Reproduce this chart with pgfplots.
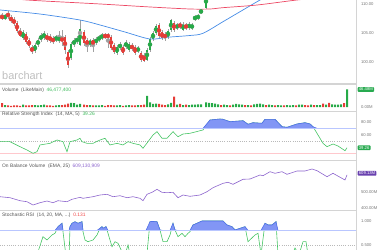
\documentclass[border=0pt]{standalone}
\usepackage{pgfplots}
\pgfplotsset{compat=1.18}
\usepackage{pgfplotstable}
\usepackage{fontspec}
\setmainfont{Liberation Sans}
\definecolor{cgreen}{RGB}{38,170,72}
\definecolor{cred}{RGB}{230,60,55}
\definecolor{wick}{RGB}{160,160,160}
\definecolor{mablue}{RGB}{70,140,230}
\definecolor{mared}{RGB}{236,72,100}
\definecolor{lgreen}{RGB}{70,196,100}
\definecolor{fillblue}{RGB}{130,150,245}
\definecolor{lineblue}{RGB}{80,110,235}
\definecolor{lvlblue}{RGB}{185,198,255}
\definecolor{lvlpink}{RGB}{255,200,205}
\definecolor{obvpurple}{RGB}{140,100,205}
\definecolor{boxpurple}{RGB}{105,65,175}
\definecolor{boxgreen}{RGB}{40,170,80}
\definecolor{sepgray}{RGB}{212,212,212}
\definecolor{txtgray}{RGB}{85,85,85}
\definecolor{tickgray}{RGB}{120,120,120}
\definecolor{valred}{RGB}{240,70,70}
\definecolor{valgreen}{RGB}{60,185,90}

\pgfplotstableread{
x hi lo top bot
5 108.32 107.28 107.98 107.63
23 105.55 103.82 105.20 104.16
35 103.30 101.56 102.95 101.91
38 104.16 102.60 103.82 102.95
41 105.03 103.47 104.68 103.82
44 105.38 103.82 105.03 104.16
56 104.68 103.47 104.34 103.82
59 105.38 103.30 104.16 103.82
71 103.47 100.35 103.12 100.70
74 104.16 102.60 103.82 102.95
77 104.51 103.12 104.16 103.47
80 107.28 102.78 105.72 102.95
90 103.99 102.60 103.64 103.12
96 104.34 102.95 103.99 103.30
99 104.68 103.47 104.34 103.82
102 105.03 103.82 104.68 104.16
117 102.95 101.22 102.60 101.56
120 103.47 102.08 103.12 102.43
126 103.82 102.26 103.47 102.60
129 103.47 101.74 103.12 102.08
138 102.78 101.56 102.43 101.91
147 102.43 100.18 102.08 100.35
150 104.34 101.74 103.99 102.08
153 105.38 103.64 105.03 103.99
156 106.59 104.68 106.24 105.03
168 105.72 103.99 105.38 104.34
171 107.46 105.20 107.28 105.55
177 106.76 105.55 106.42 105.90
183 106.94 105.38 106.59 105.55
189 106.94 105.55 106.59 105.90
192 106.76 105.55 106.42 105.90
195 108.15 107.11 107.98 107.28
198 108.32 107.28 108.15 107.46
201 109.19 108.32 109.02 108.50
206 112.10 109.19 111.62 109.36
}\greencandles

\pgfplotstableread{
x hi lo top bot
2 108.50 107.28 108.15 107.46
8 108.84 107.46 108.50 107.80
11 108.15 106.76 107.80 107.11
14 107.80 106.24 107.46 106.59
17 107.11 105.03 106.76 105.38
20 105.90 104.34 105.55 104.51
26 105.20 103.12 104.86 103.47
29 104.16 102.43 103.82 102.78
32 102.95 101.39 102.60 101.74
47 105.03 103.47 104.68 103.82
50 104.86 103.30 104.51 103.64
53 104.51 103.12 104.16 103.47
62 105.55 102.78 104.16 103.64
65 104.68 101.39 104.34 102.08
68 102.08 98.97 101.74 99.49
84 105.55 102.78 105.20 103.30
87 104.16 101.74 103.82 102.95
93 104.16 101.74 103.82 102.95
105 105.03 103.99 104.68 104.34
108 105.03 102.43 104.86 104.16
111 104.68 102.08 104.34 102.43
114 103.30 101.39 102.95 101.74
123 102.95 101.22 102.60 101.56
132 103.30 101.91 102.95 102.26
135 102.95 101.22 102.60 101.56
141 101.91 100.00 101.56 100.35
144 101.56 100.00 101.22 100.18
159 106.76 104.16 106.42 104.51
162 105.55 103.82 105.20 104.16
165 105.20 103.64 104.86 104.16
174 107.11 105.20 106.76 105.55
180 106.94 105.72 106.59 106.07
186 106.76 105.55 106.42 105.90
}\redcandles

\pgfplotstableread{
x v
5 5
23 6
35 5
38 4
41 5
44 6
56 4
59 5
71 11
74 10
77 6
80 8
90 5
96 4
99 4
102 5
117 4
120 5
126 4
129 5
138 5
147 29
150 12
153 8
156 9
168 7
171 11
177 6
183 5
189 5
192 6
195 6
198 7
201 7
206 12
209 11
212 10
215 9
218 7
224 6
227 5
233 6
236 8
239 7
242 6
248 5
254 7
257 8
260 9
263 7
269 6
272 5
278 5
281 4
287 5
290 4
293 5
299 6
302 6
311 6
317 5
320 5
326 6
332 7
335 6
338 6
341 7
347 46.48
}\greenvol

\pgfplotstableread{
x v
2 10
8 4
11 3
14 4
17 4
20 3
26 4
29 4
32 5
47 4
50 4
53 3
62 5
65 6
68 9
84 6
87 5
93 4
105 3
108 5
111 5
114 4
123 3
132 4
135 4
141 5
144 6
159 8
162 6
165 5
174 27
180 8
186 6
221 5
230 4
245 5
251 4
266 5
275 4
284 4
296 4
305 5
308 4
314 5
323 9
329 11
344 10
}\redvol

\pgfplotstableread{
x v
0 48.9
10 48.9
20 41.0
27 35.7
33 30.5
37 33.0
40 43.7
50 46.3
57 51.6
63 48.9
67 33.0
70 48.9
77 51.6
80 54.3
82 48.9
87 46.3
93 46.3
100 51.6
105 54.3
110 43.7
117 46.3
123 43.7
128 48.9
133 46.3
140 43.7
143 38.4
148 48.9
153 59.5
157 64.8
162 54.3
167 54.3
173 64.8
178 56.8
183 61.1
190 62.2
203 67.5
210 83.3
220 84.9
223 84.4
230 80.6
243 82.2
248 76.5
253 79.0
262 78.1
265 84.4
275 84.4
282 72.7
287 71.7
297 77.0
305 79.0
310 77.0
313 72.7
317 62.2
323 46.3
327 41.0
333 45.2
338 42.1
345 34.6
347 39.26
}\rsi

\pgfplotstableread{
x v
0 470.1
10 463.7
20 444.6
27 438.2
33 417.2
40 431.8
47 442.7
53 431.8
58 444.6
67 438.2
72 453.5
80 466.2
83 459.9
93 470.1
100 480.9
107 485.3
113 470.1
120 476.4
127 463.7
133 470.1
140 459.9
143 444.6
147 485.3
152 498.1
157 517.2
162 498.1
167 495.5
173 498.1
178 463.7
183 480.9
190 472.6
200 480.9
207 501.9
213 527.4
223 555.4
228 561.8
233 549.0
243 580.9
250 582.8
260 608.3
263 603.8
270 629.3
275 619.1
282 629.3
287 612.7
297 633.8
305 633.8
312 646.5
317 635.7
327 597.5
333 619.1
345 576.4
347 609.13
}\obv

\pgfplotstableread{
x v
0 0.20
10 0.10
20 0.00
30 0.05
37 0.30
43 0.671
47 0.603
52 0.706
55 0.741
58 0.877
62 0.947
63 0.774
67 0.10
69 0.20
70 0.877
72 0.947
75 0.979
78 0.947
82 0.979
83 0.774
85 0.603
88 0.568
93 0.603
97 0.706
100 0.844
102 0.877
103 0.844
106 0.877
108 0.741
112 0.465
115 0.568
118 0.535
122 0.36
125 0.30
128 0.50
130 0.30
135 0.10
140 0.00
146 0.10
150 0.979
152 0.985
157 0.979
160 0.809
163 0.568
167 0.568
170 0.706
173 0.947
175 0.809
178 0.671
182 0.741
185 0.671
188 0.741
190 0.774
193 0.912
197 0.947
202 0.994
223 0.994
227 0.912
232 0.877
235 0.809
245 0.877
248 0.568
255 0.706
258 0.741
261 0.30
265 0.947
268 0.912
272 0.912
276 0.979
278 0.30
285 0.10
292 0.30
295 0.438
299 0.30
303 0.568
306 0.568
308 0.30
320 0.20
335 0.10
347 0.131
}\stoch

\pgfplotsset{
  panel/.style={scale only axis, width=356bp, xmin=0, xmax=356, anchor=north west,
    axis line style={draw=none}, tick style={draw=none}, xtick=\empty,
    yticklabel pos=right,
    yticklabel style={font=\fontsize{4.2}{5}\selectfont, text=tickgray, anchor=west, xshift=1.5bp},
    clip=true},
  overlay/.style={scale only axis, width=356bp, xmin=0, xmax=356, anchor=north west,
    hide axis, clip=true, stack plots=y},
  candle/.style 2 args={color=#1, only marks, mark=none, forget plot,
    error bars/.cd, y dir=both, y explicit, error mark=none,
    error bar style={color=#1, line width=#2}},
}

\begin{document}
\begin{tikzpicture}
\path[use as bounding box] (0,0) rectangle (380bp,-250bp);

% ---------- price ----------
\begin{axis}[panel, at={(0,0)}, height=84bp, ymin=96.19, ymax=110.75,
  ytick={100,105,110}, yticklabels={100.00,105.00,110.00}]
\addplot[candle={wick}{0.5bp}] table[x=x, y expr=(\thisrow{hi}+\thisrow{lo})/2, y error expr=(\thisrow{hi}-\thisrow{lo})/2] \greencandles;
\addplot[candle={wick}{0.5bp}] table[x=x, y expr=(\thisrow{hi}+\thisrow{lo})/2, y error expr=(\thisrow{hi}-\thisrow{lo})/2] \redcandles;
\addplot[candle={cgreen}{2bp}] table[x=x, y expr=(\thisrow{top}+\thisrow{bot})/2, y error expr=(\thisrow{top}-\thisrow{bot})/2] \greencandles;
\addplot[candle={cred}{2bp}] table[x=x, y expr=(\thisrow{top}+\thisrow{bot})/2, y error expr=(\thisrow{top}-\thisrow{bot})/2] \redcandles;
\addplot[mablue, line width=0.7bp, smooth] coordinates {(0,109.02) (40,108.32) (80,107.28) (100,106.42) (125,105.20) (150,103.99) (167,104.29) (190,104.60) (203,104.98) (223,106.99) (240,108.72) (260,110.75) (275,112.14)};
\addplot[mared, line width=0.7bp, smooth] coordinates {(0,111.27) (27,110.75) (100,110.06) (150,109.54) (190,109.19) (210,109.19) (223,109.42) (257,109.88) (297,110.75) (330,111.27)};
\end{axis}

% ---------- volume ----------
\begin{axis}[panel, at={(0,-84bp)}, height=27bp, ymin=-10.5, ymax=60.4,
  ytick={0}, yticklabels={0.00M}]
\addplot[ybar, bar width=2bp, bar shift=0pt, fill=cgreen, draw=none] table[x=x,y=v] \greenvol;
\addplot[ybar, bar width=2bp, bar shift=0pt, fill=cred, draw=none] table[x=x,y=v] \redvol;
\end{axis}

% ---------- RSI ----------
\begin{axis}[panel, at={(0,-111bp)}, height=49bp, ymin=19.84, ymax=97.6,
  ytick={60,80}, yticklabels={60.00,80.00}]
\addplot[lvlpink, line width=1.2bp] coordinates {(0,30) (356,30)};
\addplot[gray!55, line width=0.5bp, dash pattern=on 0.8bp off 1.4bp] coordinates {(0,50) (356,50)};
\addplot[lgreen, line width=0.6bp] table[x=x,y=v] \rsi;
\end{axis}
\begin{axis}[overlay, at={(0,-111bp)}, height=49bp, ymin=19.84, ymax=97.6]
\addplot[draw=none] table[x=x, y expr=70] \rsi;
\addplot[fill=fillblue, draw=lineblue, line width=0.6bp] table[x=x, y expr={max(\thisrow{v},70)-70}] \rsi \closedcycle;
\end{axis}
\begin{axis}[panel, at={(0,-111bp)}, height=49bp, ymin=19.84, ymax=97.6, ytick=\empty]
\addplot[lvlblue, line width=1bp] coordinates {(0,70) (356,70)};
\end{axis}

% ---------- OBV ----------
\begin{axis}[panel, at={(0,-160bp)}, height=50bp, ymin=385.4, ymax=703.8,
  ytick={400,500}, yticklabels={400.00M,500.00M}]
\addplot[obvpurple, line width=0.6bp] table[x=x,y=v] \obv;
\end{axis}

% ---------- Stochastic RSI ----------
\begin{axis}[panel, at={(0,-210bp)}, height=40bp, ymin=0.397, ymax=1.22,
  ytick={0.5,1}, yticklabels={0.500,1.000}]
\addplot[gray!55, line width=0.5bp, dash pattern=on 0.8bp off 1.4bp] coordinates {(0,0.5) (356,0.5)};
\addplot[lgreen, line width=0.6bp] table[x=x,y=v] \stoch;
\end{axis}
\begin{axis}[overlay, at={(0,-210bp)}, height=40bp, ymin=0.397, ymax=1.22]
\addplot[draw=none] table[x=x, y expr=0.8] \stoch;
\addplot[fill=fillblue, draw=lineblue, line width=0.6bp] table[x=x, y expr={max(\thisrow{v},0.8)-0.8}] \stoch \closedcycle;
\end{axis}
\begin{axis}[panel, at={(0,-210bp)}, height=40bp, ymin=0.397, ymax=1.22, ytick=\empty]
\addplot[lvlblue, line width=1bp] coordinates {(0,0.8) (356,0.8)};
\end{axis}

% ---------- frame ----------
\draw[sepgray, line width=1.2bp] (0,-84bp) -- (356bp,-84bp);
\draw[sepgray, line width=0.9bp] (0,-111bp) -- (356bp,-111bp);
\draw[sepgray, line width=0.9bp] (0,-160bp) -- (356bp,-160bp);
\draw[sepgray, line width=0.9bp] (0,-210bp) -- (356bp,-210bp);
\draw[sepgray, line width=0.8bp] (356bp,0) -- (356bp,-250bp);

% ---------- texts ----------
\node[anchor=base west, inner sep=0, text=black!25, font=\fontsize{11}{11}\selectfont] at (2bp,-79bp) {barchart};
\begin{scope}[every node/.style={anchor=west, inner sep=0, text=txtgray, font=\fontsize{4.9}{5.5}\selectfont}]
\node at (2bp,-90bp) {Volume\ \ (LikeMain)\ \ \textcolor{valgreen}{46,477,400}};
\node at (2bp,-114.5bp) {Relative Strength Index\ \ (14, MA, 5)\ \ \textcolor{valgreen}{39.26}};
\node at (2bp,-166bp) {On Balance Volume\ \ (EMA, 25)\ \ \textcolor{obvpurple}{609,130,909}};
\node at (2bp,-215.5bp) {Stochastic RSI\ \ (14, 20, MA, ...)\ \ \textcolor{valred}{0.131}};
\end{scope}
\begin{scope}[every node/.style={anchor=west, inner xsep=1.2bp, inner ysep=0.9bp, rounded corners=0.8bp, text=white, font=\fontsize{4.2}{5}\selectfont}]
\node[fill=boxgreen] at (357.5bp,-89.5bp) {46.48M};
\node[fill=boxgreen] at (357.5bp,-147.8bp) {39.26};
\node[fill=boxpurple] at (357.5bp,-173.3bp) {609.13M};
\end{scope}
\end{tikzpicture}
\end{document}
